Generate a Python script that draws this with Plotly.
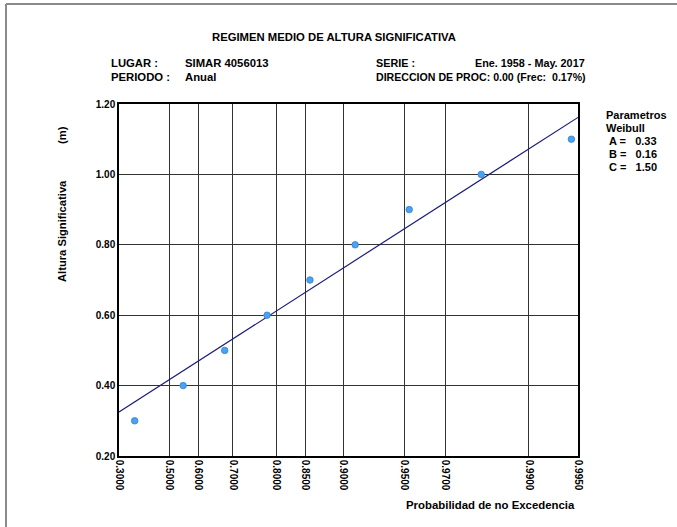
import numpy as np
import plotly.graph_objects as go

# ---------------- data ----------------
prob_ticks = [0.3000, 0.5000, 0.6000, 0.7000, 0.8000, 0.8500, 0.9000, 0.9500, 0.9700, 0.9900, 0.9950]
prob_tick_labels = ["0.3000", "0.5000", "0.6000", "0.7000", "0.8000", "0.8500",
                    "0.9000", "0.9500", "0.9700", "0.9900", "0.9950"]
y_ticks = [0.20, 0.40, 0.60, 0.80, 1.00, 1.20]

# empirical points (non-exceedance probability, significant wave height)
point_prob = [0.364, 0.548, 0.678, 0.781, 0.857, 0.912, 0.953, 0.981, 0.9945]
point_hs = [0.30, 0.40, 0.50, 0.60, 0.70, 0.80, 0.90, 1.00, 1.10]

# fitted Weibull line (end points)
line_prob = [0.3000, 0.9950]
line_hs = [0.325, 1.162]

param_names = ["A", "B", "C"]
param_values = ["0.33", "0.16", "1.50"]

WEIBULL_SHAPE = 1.5  # shape of the probability-paper axis


def weibull_axis(p):
    p = np.asarray(p, dtype=float)
    return (-np.log(1.0 - p)) ** (1.0 / WEIBULL_SHAPE)


# ---------------- layout geometry ----------------
W, H = 677, 527
L, R, T, B = 119, 99, 104, 71
PW, PH = W - L - R, H - T - B


def px(x):
    return (x - L) / PW


def py(y):
    return (H - B - y) / PH


FONT = "Liberation Sans, Arial, sans-serif"

fig = go.Figure()

fig.add_trace(go.Scatter(
    x=weibull_axis(line_prob), y=line_hs, mode="lines",
    line=dict(color="#1c1c78", width=1.2), hoverinfo="skip", showlegend=False))

fig.add_trace(go.Scatter(
    x=weibull_axis(point_prob), y=point_hs, mode="markers",
    marker=dict(color="#4aa3f2", size=6.5, line=dict(color="#2f7fd0", width=0.8)),
    showlegend=False))

xr = weibull_axis([prob_ticks[0], prob_ticks[-1]])

fig.update_xaxes(
    range=list(xr), tickvals=weibull_axis(prob_ticks), ticktext=[f"<b>{t}</b>" for t in prob_tick_labels],
    tickangle=90, showgrid=True, gridcolor="#333333", gridwidth=1.4,
    showline=True, linecolor="black", linewidth=1.5, mirror=True,
    zeroline=False, ticks="", tickfont=dict(family=FONT, size=10, color="black"))

fig.update_yaxes(
    range=[0.2, 1.2], tickvals=y_ticks, ticktext=[f"<b>{v:.2f}</b>" for v in y_ticks],
    showgrid=True, gridcolor="#333333", gridwidth=1.4,
    showline=True, linecolor="black", linewidth=1.5, mirror=True,
    zeroline=False, ticks="", tickfont=dict(family=FONT, size=10, color="black"))

ann = []


def txt(x, y, s, anchor="left", size=11, angle=0):
    ann.append(dict(x=px(x), y=py(y), xref="paper", yref="paper", text=f"<b>{s}</b>",
                    showarrow=False, xanchor=anchor, yanchor="middle", textangle=angle,
                    font=dict(family=FONT, size=size, color="black")))


txt(334, 37, "REGIMEN MEDIO DE ALTURA SIGNIFICATIVA", anchor="center", size=11.3)
txt(109, 63, "LUGAR :", size=11.3)
txt(183, 63, "SIMAR 4056013", size=11.3)
txt(109, 77, "PERIODO :", size=11.3)
txt(183, 77, "Anual", size=11.3)
txt(374, 63, "SERIE :", size=10.8)
txt(587, 63, "Ene. 1958 - May. 2017", anchor="right", size=10.8)
txt(374, 77, "DIRECCION DE PROC: 0.00 (Frec:  0.17%)", size=10.6)
txt(62, 231, "Altura Significativa", anchor="center", size=11.2, angle=-90)
txt(62, 135, "(m)", anchor="center", size=11.2, angle=-90)
txt(490, 505, "Probabilidad de no Excedencia", anchor="center", size=11.4)
txt(604, 115, "Parametros", size=11)
txt(604, 128, "Weibull", size=11)
for i, (n, v) in enumerate(zip(param_names, param_values)):
    txt(607, 141 + 13 * i, f"{n} =&nbsp;&nbsp; {v}", size=11)

border = dict(color="#8a8a8a", width=2)
fig.update_layout(
    width=W, height=H, margin=dict(l=L, r=R, t=T, b=B),
    paper_bgcolor="white", plot_bgcolor="white",
    annotations=ann,
    shapes=[
        dict(type="line", xref="paper", yref="paper",
             x0=px(6), x1=px(W), y0=py(4), y1=py(4), line=border, layer="below"),
        dict(type="line", xref="paper", yref="paper",
             x0=px(6), x1=px(6), y0=py(4), y1=py(H), line=border, layer="below"),
    ],
    showlegend=False)

fig.write_html(
    "out.html",
    config={"displayModeBar": False},
    post_script=(
        "document.documentElement.style.overflow='hidden';"
        "document.body.style.overflow='hidden';"
        "document.body.style.margin='0';"
    ),
)
